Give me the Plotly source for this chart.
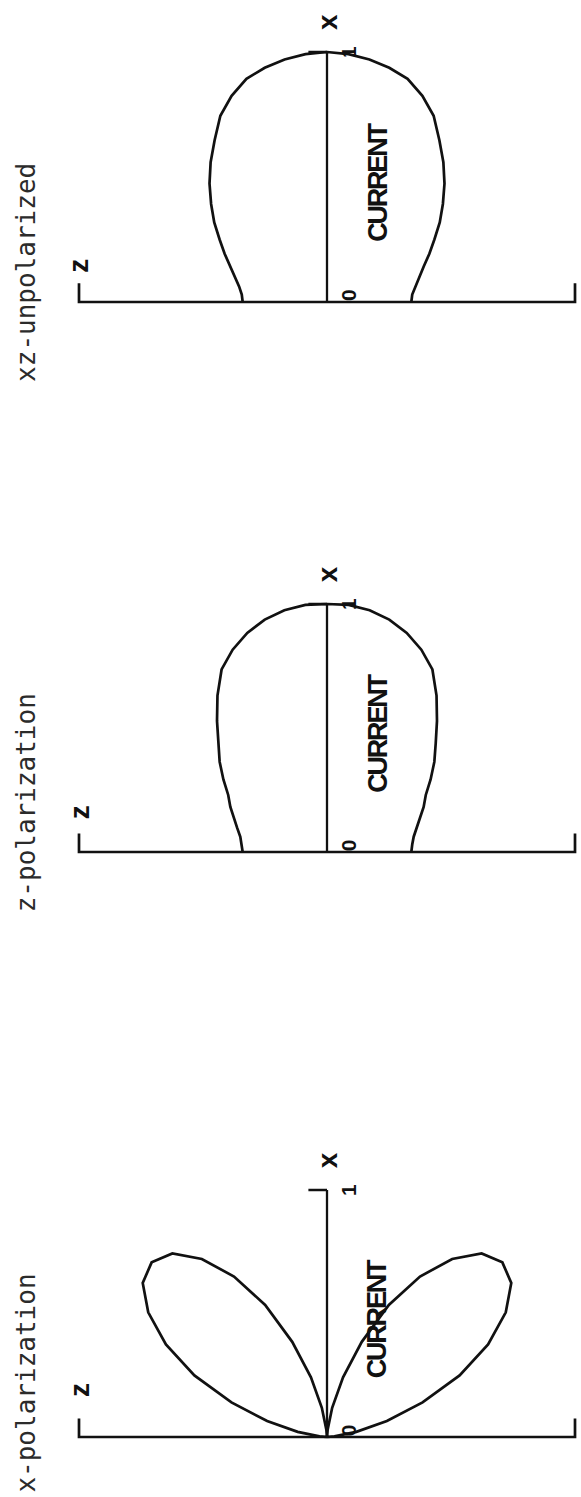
import numpy as np
import plotly.graph_objects as go

# Normalised far-field patterns, r(theta), theta measured from the x axis
# (negative angles toward the z label side). Three panels, top to bottom.
titles = ["xz-unpolarized", "z-polarization", "x-polarization"]
theta_deg = list(range(-90, 91, 5))

r_xz_unpolarized = [0.34, 0.345, 0.36, 0.385, 0.415, 0.455, 0.50, 0.555, 0.61,
                    0.67, 0.73, 0.79, 0.86, 0.91, 0.95, 0.97, 0.985, 0.995,
                    1.00,
                    0.995, 0.985, 0.97, 0.95, 0.91, 0.86, 0.79, 0.73, 0.67,
                    0.61, 0.555, 0.50, 0.455, 0.415, 0.385, 0.36, 0.345, 0.34]

r_z_polarization = [0.34, 0.345, 0.355, 0.375, 0.40, 0.43, 0.46, 0.51, 0.565,
                    0.62, 0.69, 0.77, 0.85, 0.90, 0.94, 0.97, 0.99, 1.00,
                    1.00,
                    1.00, 0.99, 0.97, 0.94, 0.90, 0.85, 0.77, 0.69, 0.62,
                    0.565, 0.51, 0.46, 0.43, 0.40, 0.375, 0.355, 0.345, 0.34]

r_x_polarization = [0.0, 0.03, 0.12, 0.25, 0.41, 0.59, 0.75, 0.88, 0.97,
                    1.00, 0.97, 0.88, 0.75, 0.59, 0.41, 0.25, 0.12, 0.03,
                    0.0,
                    0.03, 0.12, 0.25, 0.41, 0.59, 0.75, 0.88, 0.97, 1.00,
                    0.97, 0.88, 0.75, 0.59, 0.41, 0.25, 0.12, 0.03, 0.0]

patterns = [r_xz_unpolarized, r_z_polarization, r_x_polarization]

axis_labels = {"z": "z", "x": "x", "origin": "0", "unit": "1"}
current_label = "CURRENT"

# ---- page geometry (pixels) ----
W, H = 581, 1497
origin_px_x = 327
unit_px_x = 248
origin_px_y = [302, 852, 1437]      # baseline of each panel
unit_px_y = [250, 248, 247]         # pixels per unit radius
title_v = [0.12, 0.20, 0.22]        # title centre height above baseline
z_label_v = [0.145, 0.16, 0.19]

INK = "#111111"
BOLD_SANS = "Liberation Sans Narrow, Arial Narrow, Liberation Sans, Arial"

fig = go.Figure()
layout_axes = {}
shapes = []
annotations = []

x_range = [-origin_px_x / unit_px_x, (W - origin_px_x) / unit_px_x]

for i, (title, r) in enumerate(zip(titles, patterns)):
    ax_name = "y" if i == 0 else f"y{i + 1}"
    key = "yaxis" if i == 0 else f"yaxis{i + 1}"
    P, U = origin_px_y[i], unit_px_y[i]
    cfg = dict(domain=[0, 1], range=[-(H - P) / U, P / U], visible=False,
               fixedrange=True)
    if i > 0:
        cfg["overlaying"] = "y"
    layout_axes[key] = cfg

    t = np.radians(np.array(theta_deg, dtype=float))
    rr = np.array(r, dtype=float)
    fig.add_trace(go.Scatter(
        x=rr * np.sin(t), y=rr * np.cos(t), mode="lines",
        line=dict(color=INK, width=2.7), yaxis=ax_name,
        hoverinfo="skip", showlegend=False))

    # z axis baseline with end brackets
    shapes.append(dict(type="path", xref="x", yref=ax_name,
                       path="M -1,0.075 L -1,0 L 1.0,0 L 1.0,0.075",
                       line=dict(color=INK, width=2.7)))
    # x axis with unit tick
    shapes.append(dict(type="line", xref="x", yref=ax_name,
                       x0=0, y0=0, x1=0, y1=1,
                       line=dict(color=INK, width=2.3)))
    shapes.append(dict(type="line", xref="x", yref=ax_name,
                       x0=-0.075, y0=1, x1=0, y1=1,
                       line=dict(color=INK, width=2.5)))

    def note(text, x, y, size, family, color=INK):
        annotations.append(dict(text=text, x=x, y=y, xref="x", yref=ax_name,
                                showarrow=False, textangle=-90,
                                font=dict(size=size, family=family,
                                          color=color)))

    note(title, -1.214, title_v[i], 26, "DejaVu Sans Mono", "#2b2b2b")
    note("<b>" + axis_labels["z"] + "</b>", -1.0, z_label_v[i], 28, BOLD_SANS)
    note("<b>" + axis_labels["x"] + "</b>", 0.0, 1.12, 28, BOLD_SANS)
    note("<b>" + axis_labels["unit"] + "</b>", 0.085, 1.0, 21, BOLD_SANS)
    note("<b>" + axis_labels["origin"] + "</b>", 0.085, 0.028, 21, BOLD_SANS)
    note('<span style="letter-spacing:-2.2px"><b>' + current_label
         + "</b></span>", 0.205, 0.48, 27, BOLD_SANS)

fig.update_layout(
    width=W, height=H, autosize=False,
    margin=dict(l=0, r=0, t=0, b=0),
    paper_bgcolor="white", plot_bgcolor="white",
    xaxis=dict(range=x_range, visible=False, fixedrange=True, domain=[0, 1]),
    shapes=shapes, annotations=annotations,
    **layout_axes,
)

fig.write_html("out.html")
